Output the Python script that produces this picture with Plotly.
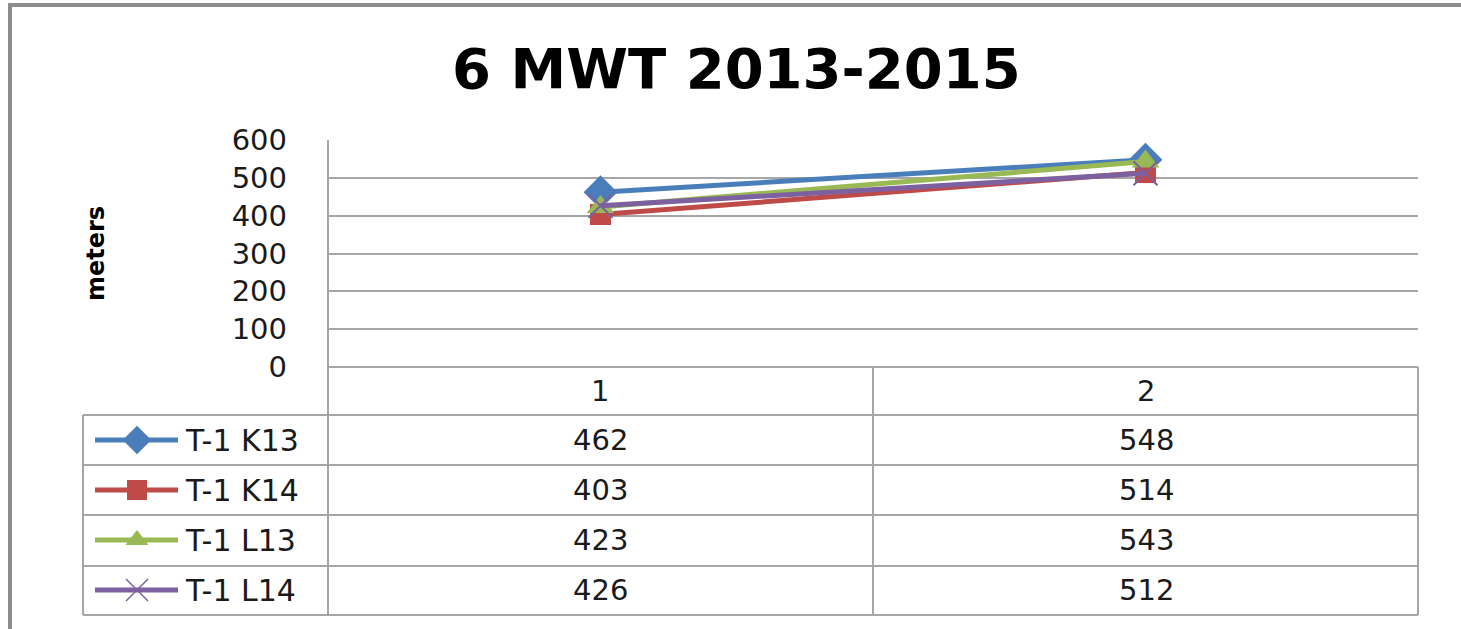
import plotly.graph_objects as go

# chart data
categories = [1, 2]
series_names = ["T-1 K13", "T-1 K14", "T-1 L13", "T-1 L14"]
k13 = [462, 548]
k14 = [403, 514]
l13 = [423, 543]
l14 = [426, 512]
y_ticks = [0, 100, 200, 300, 400, 500, 600]

W, H = 1461, 629
colors = ["#4A7EBB", "#BE4B48", "#98B954", "#7D60A0"]
symbols = ["diamond", "square", "triangle-up", "x-thin"]
sizes = [26, 21, 24, 24]
key_sizes = [22, 20, 20, 22]
grid = "#A6A6A6"
font = "DejaVu Sans"
txt = "#1A1A1A"


def px(x):
    return x / W


def py(y):
    return 1 - y / H


fig = go.Figure()

all_values = [k13, k14, l13, l14]

for name, vals, col, sym, sz in zip(series_names, all_values, colors, symbols, sizes):
    marker = dict(symbol=sym, size=sz, color=col)
    if sym == "x-thin":
        marker["line"] = dict(color=col, width=2)
    fig.add_trace(
        go.Scatter(
            x=categories,
            y=vals,
            mode="lines+markers",
            name=name,
            line=dict(color=col, width=5),
            marker=marker,
            showlegend=False,
            cliponaxis=False,
        )
    )

# legend keys inside the data table (pixel overlay axis)
row_centers = [440, 490, 540, 590]
for i, (col, sym, sz) in enumerate(zip(colors, symbols, key_sizes)):
    marker = dict(symbol=sym, size=sz, color=col)
    if sym == "x-thin":
        marker["line"] = dict(color=col, width=1.5)
    fig.add_trace(
        go.Scatter(
            x=[95, 137, 178],
            y=[row_centers[i]] * 3,
            mode="lines",
            line=dict(color=col, width=5),
            xaxis="x2",
            yaxis="y2",
            showlegend=False,
            hoverinfo="skip",
            cliponaxis=False,
        )
    )
    fig.add_trace(
        go.Scatter(
            x=[137],
            y=[row_centers[i]],
            mode="markers",
            marker=marker,
            xaxis="x2",
            yaxis="y2",
            showlegend=False,
            hoverinfo="skip",
            cliponaxis=False,
        )
    )

shapes = []


def hline(y, x0, x1, color=grid, width=2):
    shapes.append(dict(type="line", xref="paper", yref="paper",
                       x0=px(x0), x1=px(x1), y0=py(y), y1=py(y),
                       line=dict(color=color, width=width)))


def vline(x, y0, y1, color=grid, width=2):
    shapes.append(dict(type="line", xref="paper", yref="paper",
                       x0=px(x), x1=px(x), y0=py(y0), y1=py(y1),
                       line=dict(color=color, width=width)))


# outer chart frame (top and left visible)
hline(5, 8, W, color="#8C8C8C", width=4)
vline(10, 3, H, color="#8C8C8C", width=4)

# data table grid
hline(367, 328, 1418)
for y in [415, 465, 515, 566, 615]:
    hline(y, 83, 1418)
vline(328, 140, 615)
vline(873, 367, 615)
vline(1418, 367, 615)
vline(83, 415, 615)

annotations = []
col_centers = [600, 1146]


def label(text, x, y, size=29, xanchor="center", **kw):
    annotations.append(dict(text=text, x=px(x), y=py(y), xref="paper", yref="paper",
                            xanchor=xanchor, yanchor="middle", showarrow=False,
                            font=dict(size=size, color=txt, family=font), **kw))


for c, xc in zip(categories, col_centers):
    label(str(c), xc, 391)

for i, (name, vals) in enumerate(zip(series_names, all_values)):
    label(name, 183, row_centers[i], size=30, xanchor="left")
    for v, xc in zip(vals, col_centers):
        label(str(v), xc, row_centers[i])

# y axis title
annotations.append(dict(text="<b>meters</b>", x=px(96), y=py(254), xref="paper", yref="paper",
                        xanchor="center", yanchor="middle",
                        textangle=-90, showarrow=False,
                        font=dict(size=24, color="#000000", family=font)))

fig.update_layout(
    width=W,
    height=H,
    margin=dict(l=0, r=0, t=0, b=0, autoexpand=False),
    paper_bgcolor="white",
    plot_bgcolor="rgba(0,0,0,0)",
    title=dict(text="<b>6 MWT 2013-2015</b>", x=0.504, xanchor="center",
               y=py(68), yanchor="middle",
               font=dict(size=56, color="#000000", family=font)),
    xaxis=dict(domain=[px(328), px(1418)], range=[0.5, 2.5], showgrid=False,
               showticklabels=False, zeroline=False, showline=False, automargin=False),
    yaxis=dict(domain=[py(367), py(140)], range=[0, 600], tickvals=y_ticks,
               showgrid=True, gridcolor=grid, gridwidth=2, zeroline=False,
               showline=False, ticks="", ticklabelstandoff=40, automargin=False,
               tickfont=dict(size=29, color=txt, family=font)),
    xaxis2=dict(domain=[0, 1], range=[0, W], visible=False, fixedrange=True,
                anchor="y2", automargin=False),
    yaxis2=dict(domain=[0, 1], range=[H, 0], visible=False, fixedrange=True,
                anchor="x2", automargin=False),
    shapes=shapes,
    annotations=annotations,
)

fig.write_html("out.html", config={"displayModeBar": False},
               post_script="document.body.style.margin='0';")
